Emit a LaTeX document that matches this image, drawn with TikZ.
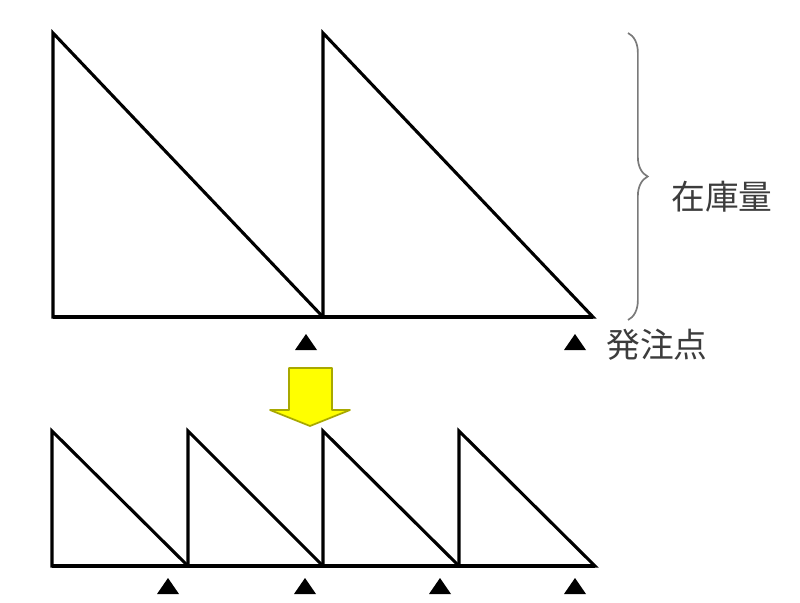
\documentclass[tikz,border=0pt]{standalone}
\usepackage{fontspec}
\newfontfamily\jpfont{Noto Sans CJK JP}
\usepackage{tikz}
\usetikzlibrary{decorations.pathreplacing,positioning}
\definecolor{txtgray}{HTML}{3C3C3C}
\definecolor{bracegray}{HTML}{7A7A7A}
\definecolor{arrowfill}{HTML}{FFFF00}
\definecolor{arrowline}{HTML}{A8A800}
\tikzstyle{tooth} = [line width=2.2pt, line join=miter, black]
\tikzstyle{label} = [font=\jpfont\fontsize{24}{28}\selectfont, text=txtgray, inner sep=0pt]
\tikzstyle{ordermark} = [fill=black]

\begin{document}
\begin{tikzpicture}[x=0.025cm, y=-0.025cm]
            \useasboundingbox (0,0) rectangle (800,603);
            % large lots
            \foreach \xa/\xb in {53/323, 323/593}
              \draw[tooth] (\xa,317) -- (\xa,33) -- (\xb,317) -- cycle;
            \draw[tooth] (53,317) -- (593,317);
            \foreach \xm in {306, 575}
              \fill[ordermark] (\xm-11,350) -- (\xm+11,350) -- (\xm,334) -- cycle;
            % brace and labels
            \draw[bracegray, line width=1.2pt, decorate,
              decoration={brace, amplitude=14}] (628,33) -- (628,320);
            \node[label] (stock) at (722,197) {在庫量};
            \node[label] (orderpt) at (657,345) {発注点};
            % yellow arrow
            \draw[fill=arrowfill, draw=arrowline, line width=1.2pt, line join=round]
              (289,368) -- (332,368) -- (332,410) -- (350,410) -- (310,426)
              -- (270,410) -- (289,410) -- cycle;
            % small lots
            \foreach \xa/\xb in {52/188, 188/323, 323/459, 459/595}
              \draw[tooth] (\xa,566) -- (\xa,431) -- (\xb,566) -- cycle;
            \draw[tooth] (52,566) -- (595,566);
            \foreach \xm in {168, 305, 440, 575}
              \fill[ordermark] (\xm-11,594) -- (\xm+11,594) -- (\xm,578) -- cycle;
\end{tikzpicture}
\end{document}
